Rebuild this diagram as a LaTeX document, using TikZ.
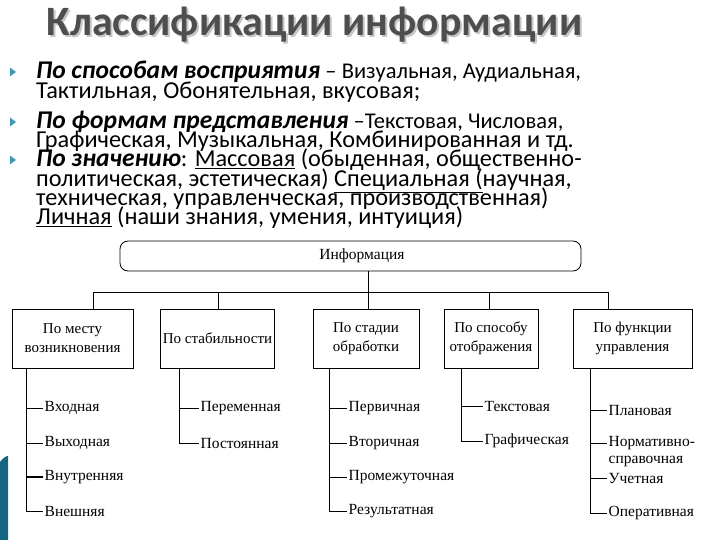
\documentclass[tikz,border=0pt]{standalone}
\usepackage{fontspec}
\setmainfont{Carlito}
\newfontfamily\diagfont{Liberation Serif}
\definecolor{titlegray}{RGB}{78,78,78}
\definecolor{bullteal}{RGB}{70,150,175}
\definecolor{stripteal}{RGB}{20,100,130}
\newcommand{\bitext}[1]{{\fontsize{25.5}{25.5}\selectfont\bfseries\itshape #1}}
\newcommand{\smalltext}[1]{{\fontsize{22.5}{22.5}\selectfont #1}}
\tikzset{
  bodyline/.style={anchor=base west, inner sep=0pt, font=\fontsize{24.3}{24.3}\selectfont},
  bulletmark/.style={fill=bullteal, draw=none},
  catbox/.style={draw, line width=0.8pt, align=center, inner sep=2pt, font=\diagfont\fontsize{15}{19}\selectfont},
  leaf/.style={anchor=west, inner sep=1.5pt, font=\diagfont\fontsize{15.5}{18}\selectfont},
  conn/.style={line width=0.8pt}
}
\begin{document}
\begin{tikzpicture}[x=1pt,y=-1pt]
\useasboundingbox (0,0) rectangle (720,540);
% title
\node[text=gray!45, font=\fontsize{41.8}{42}\selectfont\bfseries, anchor=base] at (316.5,37.5) {Классификации информации};
\node (title) [text=titlegray, font=\fontsize{41.8}{42}\selectfont\bfseries, anchor=base] at (314.5,36) {Классификации информации};
% bullets
\foreach \yy in {72,122,160}{
  \fill[bulletmark] (10,\yy-4.5) -- (16,\yy) -- (10,\yy+4.5) -- cycle;
}
\node (t1) [bodyline] at (36,79) {\bitext{По способам восприятия}\smalltext{ – Визуальная, Аудиальная,}};
\node (t2) [bodyline] at (36,99) {Тактильная, Обонятельная, вкусовая;};
\node (t3) [bodyline] at (36,129) {\bitext{По формам представления}\smalltext{ –Текстовая, Числовая,}};
\node (t4) [bodyline] at (36,148) {Графическая, Музыкальная, Комбинированная и тд.};
\node (t5) [bodyline] at (36,167) {\bitext{По значению}: \underline{Массовая} (обыденная, общественно-};
\node (t6) [bodyline] at (36,187) {политическая, эстетическая) \underline{Специальная (}научная,};
\node (t7) [bodyline] at (36,206) {техническая, управленческая, производственная)};
\node (t8) [bodyline] at (36,225) {\underline{Личная} (наши знания, умения, интуиция)};
% left strip
\fill[stripteal] (0,540) -- (0,462) .. controls (3,458) and (6,456) .. (8,456) -- (8,540) -- cycle;
% diagram
\node (info) [draw, line width=0.8pt, rounded corners=8pt, minimum width=461pt, minimum height=30pt] at (350.5,256) {};
\node (infotext) at (362,256) [font=\diagfont\fontsize{15.5}{18}\selectfont] {Информация};
\node (b1) [catbox, minimum width=121pt, minimum height=59pt] at (72.5,338.5) {По месту\\возникновения};
\node (b2) [catbox, minimum width=111pt, minimum height=59pt] at (217.5,338.5) {По стабильности};
\node (b3) [catbox, minimum width=106pt, minimum height=59pt] at (366,338.5) {По стадии\\обработки};
\node (b4) [catbox, minimum width=94pt, minimum height=59pt] at (491,338.5) {По способу\\отображения};
\node (b5) [catbox, minimum width=119pt, minimum height=59pt] at (632.5,338.5) {По функции\\управления};
% bus
\coordinate (k1) at (93,292);
\coordinate (k2) at (218,292);
\coordinate (k3) at (368,292);
\coordinate (k4) at (489,292);
\coordinate (k5) at (608,292);
\draw[conn] (k1) -- (k5);
\draw[conn] (info.south -| k3) -- (k3 |- b3.north);
\draw[conn] (k1) -- (k1 |- b1.north);
\draw[conn] (k2) -- (k2 |- b2.north);
\draw[conn] (k4) -- (k4 |- b4.north);
\draw[conn] (k5) -- (k5 |- b5.north);
% leaves
\coordinate (s1) at (26,368);
\coordinate (s2) at (179,368);
\coordinate (s3) at (329,368);
\coordinate (s4) at (461,368);
\coordinate (s5) at (590,368);
\node (l11) [leaf] at (43,408) {Входная};
\node (l12) [leaf] at (43,443) {Выходная};
\node (l13) [leaf] at (43,477) {Внутренняя};
\node (l14) [leaf] at (43,511) {Внешняя};
\node (l21) [leaf] at (199,408) {Переменная};
\node (l22) [leaf] at (199,443) {Постоянная};
\node (l31) [leaf] at (347,408) {Первичная};
\node (l32) [leaf] at (347,443) {Вторичная};
\node (l33) [leaf] at (347,477) {Промежуточная};
\node (l34) [leaf] at (347,511) {Результатная};
\node (l41) [leaf] at (483,406) {Текстовая};
\node (l42) [leaf] at (483,441) {Графическая};
\node (l51) [leaf] at (607,410) {Плановая};
\node (l52) [leaf] at (607,443) {Нормативно-};
\node (l52b) [leaf] at (607,461) {справочная};
\node (l53) [leaf] at (607,478) {Учетная};
\node (l54) [leaf] at (607,513) {Оперативная};
\draw[conn] (s1) |- (l14.west);
\draw[conn] (s1 |- l11.west) -- (l11.west);
\draw[conn] (s1 |- l12.west) -- (l12.west);
\draw[line width=1.6pt] (s1 |- l13.west) -- (l13.west);
\draw[conn] (s2) |- (l22.west);
\draw[conn] (s2 |- l21.west) -- (l21.west);
\draw[conn] (s3) |- (l34.west);
\draw[conn] (s3 |- l31.west) -- (l31.west);
\draw[conn] (s3 |- l32.west) -- (l32.west);
\draw[conn] (s3 |- l33.west) -- (l33.west);
\draw[conn] (s4) |- (l42.west);
\draw[conn] (s4 |- l41.west) -- (l41.west);
\draw[conn] (s5) |- (l54.west);
\draw[conn] (s5 |- l51.west) -- (l51.west);
\draw[conn] (s5 |- l52.west) -- (l52.west);
\draw[conn] (s5 |- l53.west) -- (l53.west);
\end{tikzpicture}
\end{document}
